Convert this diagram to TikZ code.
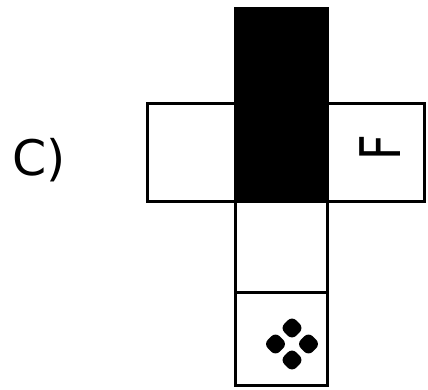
\documentclass[tikz,border=0pt]{standalone}
\usepackage{fontspec}
\setmainfont{DejaVu Sans}
\usetikzlibrary{positioning,shapes.geometric}
\tikzset{
  net/face/.style={draw, line width=3pt, inner sep=0pt, outer sep=0pt, minimum width=92pt, minimum height=95pt},
  net/solid/.style={net/face, fill=black},
  net/dot/.style={diamond, fill=black, inner sep=0pt, minimum size=24pt, rounded corners=6pt},
  net/letter/.style={inner sep=0pt, font=\fontsize{56}{56}\selectfont},
  net/tag/.style={inner sep=0pt, font=\fontsize{49}{49}\selectfont}
}

\begin{document}
\begin{tikzpicture}[x=1pt, y=1pt, node distance=0pt]
  \useasboundingbox (0,0) rectangle (428,389);
  \node[net/solid, minimum height=97pt] (mid) at (281,236.5) {};
  \node[net/solid, above=of mid] (top) {};
  \node[net/face, left=of mid, minimum width=88pt, minimum height=97pt] (lft) {};
  \node[net/face, right=of mid, minimum width=97pt, minimum height=97pt] (rgt) {};
  \node[net/face, below=of mid, minimum height=91pt] (low) {};
  \node[net/face, below=of low, minimum height=93pt] (dice) {};

  % letter on the right face
  \node[net/letter, rotate=90] (f) at ([shift={(4.5,4.5)}]rgt.center) {\scalebox{0.8}[1]{F}};

  % four dots
  \coordinate (dc) at ([shift={(11,-5.5)}]dice.center);
  \node[net/dot, shift={(0,16)}] (d1) at (dc) {};
  \node[net/dot, shift={(-16.5,0)}] (d2) at (dc) {};
  \node[net/dot, shift={(16.5,0)}] (d3) at (dc) {};
  \node[net/dot, shift={(0,-16)}] (d4) at (dc) {};

  \node[net/tag, left=81pt of lft, yshift=-7.5pt] (lbl) {C)};
\end{tikzpicture}
\end{document}
